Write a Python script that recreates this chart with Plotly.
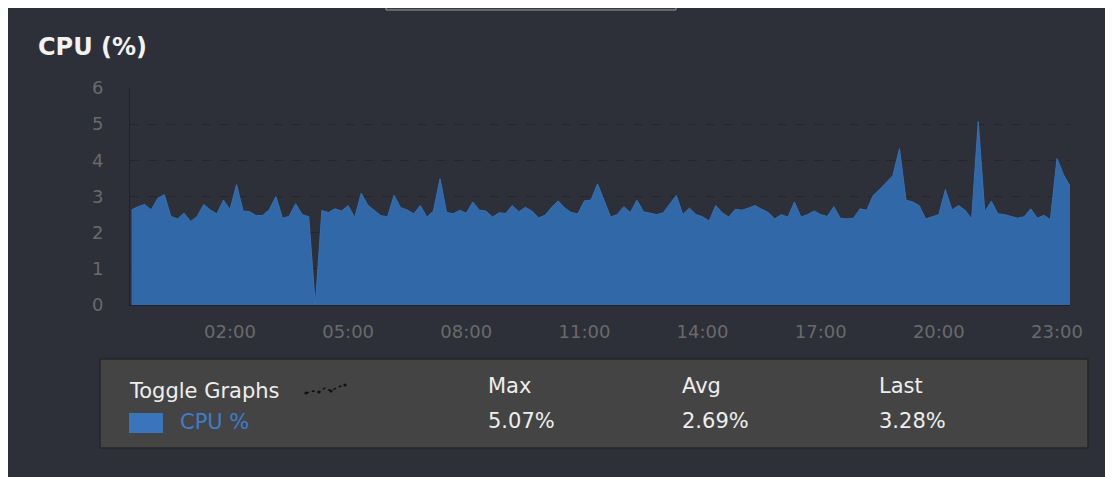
import pandas as pd
import plotly.graph_objects as go

# ---- data ----
start_time = "2024-01-01 23:30"
cpu_values = [
    2.63, 2.72, 2.78, 2.63, 2.95, 3.05, 2.45, 2.38, 2.54, 2.31, 2.45, 2.78,
    2.63, 2.52, 2.90, 2.64, 3.33, 2.60, 2.58, 2.47, 2.48, 2.64, 3.00, 2.40,
    2.45, 2.80, 2.50, 2.44, 0.00, 2.61, 2.56, 2.66, 2.60, 2.75, 2.42, 3.09,
    2.76, 2.62, 2.47, 2.44, 3.03, 2.69, 2.63, 2.52, 2.75, 2.43, 2.60,
    3.49, 2.56, 2.52, 2.62, 2.54, 2.85, 2.62, 2.60, 2.43, 2.55, 2.53, 2.75,
    2.58, 2.70, 2.60, 2.41, 2.48, 2.70, 2.88, 2.68, 2.56, 2.52, 2.88,
    2.90, 3.35, 2.90, 2.43, 2.50, 2.72, 2.56, 2.90, 2.58, 2.54, 2.50, 2.55,
    2.80, 3.03, 2.50, 2.68, 2.50, 2.44, 2.32, 2.75, 2.55, 2.43, 2.65, 2.62,
    2.68, 2.75, 2.65, 2.56, 2.38, 2.50, 2.43, 2.85, 2.43, 2.50, 2.60, 2.50,
    2.45, 2.72, 2.40, 2.38, 2.40, 2.66, 2.62, 3.03, 3.20, 3.40, 3.58, 4.32,
    2.90, 2.85, 2.75, 2.38, 2.43, 2.50, 3.19, 2.63, 2.75, 2.62, 2.38, 5.07,
    2.58, 2.87, 2.52, 2.50, 2.45, 2.40, 2.44, 2.66, 2.40, 2.48, 2.36, 4.05,
    3.60, 3.28,
]
tick_labels = ["02:00", "05:00", "08:00", "11:00", "14:00", "17:00", "20:00", "23:00"]
y_ticks = [0, 1, 2, 3, 4, 5, 6]
stat_headers = ["Max", "Avg", "Last"]
stat_values = ["5.07%", "2.69%", "3.28%"]
series_name = "CPU %"
title_text = "CPU (%)"

times = pd.date_range(start_time, periods=len(cpu_values), freq="10min")
tick_vals = [pd.Timestamp("2024-01-02 " + t) for t in tick_labels]

# ---- layout geometry (page pixels; page body has an 8px margin) ----
PAGE_W, PAGE_H = 1113, 477
OFF = 8
W, H = PAGE_W - OFF, PAGE_H - OFF
L, R, T, B = 130, 1070, 88, 305   # plot area in page pixels


def px(x):
    return (x - L) / (R - L)


def py(y):
    return (B - y) / (B - T)


BG = "#2d3038"
FONT = "DejaVu Sans"

fig = go.Figure()
fig.add_trace(go.Scatter(
    x=times, y=cpu_values, mode="lines", fill="tozeroy",
    line=dict(color="#3670b3", width=1), fillcolor="#3168a8",
    name=series_name, hoverinfo="x+y",
))

shapes = []
# white right edge of the page
shapes.append(dict(type="rect", xref="paper", yref="paper", x0=px(1108), x1=px(PAGE_W + 5), y0=py(0), y1=py(PAGE_H + 5),
                   fillcolor="#ffffff", line=dict(width=0), layer="above"))
# top tab fragment
shapes.append(dict(type="rect", xref="paper", yref="paper", x0=px(386), x1=px(676), y0=py(6), y1=py(10),
                   fillcolor="#3a3c42", line=dict(width=1, color="#9a9a9a"), layer="above"))
# legend box
shapes.append(dict(type="rect", xref="paper", yref="paper", x0=px(100), x1=px(1088), y0=py(359), y1=py(448),
                   fillcolor="#444444", line=dict(width=1.5, color="#262626"), layer="above"))
shapes.append(dict(type="rect", xref="paper", yref="paper", x0=px(129), x1=px(163), y0=py(413), y1=py(433),
                   fillcolor="#3a74bb", line=dict(width=0), layer="above"))
# toggle icon
icon_pts = [(306, 393), (313, 391), (319, 392), (325, 388), (331, 391), (338, 387), (345, 385)]
path = "M " + " L ".join(f"{px(a)},{py(b)}" for a, b in icon_pts)
shapes.append(dict(type="path", xref="paper", yref="paper", path=path,
                   line=dict(color="#111111", width=1.5, dash="dot"), layer="above"))
for a, b in icon_pts[::2]:
    shapes.append(dict(type="circle", xref="paper", yref="paper",
                       x0=px(a - 1.6), x1=px(a + 1.6), y0=py(b - 1.6), y1=py(b + 1.6),
                       fillcolor="#111111", line=dict(width=0), layer="above"))

annotations = []
annotations.append(dict(text="<b>" + title_text + "</b>", xref="paper", yref="paper", x=px(36), y=py(47),
                        xanchor="left", yanchor="middle", showarrow=False,
                        font=dict(family=FONT, size=24, color="#f2f2f2")))
annotations.append(dict(text="Toggle Graphs", xref="paper", yref="paper", x=px(127), y=py(391),
                        xanchor="left", yanchor="middle", showarrow=False,
                        font=dict(family=FONT, size=21, color="#eeeeee")))
annotations.append(dict(text=series_name, xref="paper", yref="paper", x=px(178), y=py(422),
                        xanchor="left", yanchor="middle", showarrow=False,
                        font=dict(family=FONT, size=21, color="#3d7dcc")))
for xh, head, val in zip([486, 680, 877], stat_headers, stat_values):
    annotations.append(dict(text=head, xref="paper", yref="paper", x=px(xh), y=py(386),
                            xanchor="left", yanchor="middle", showarrow=False,
                            font=dict(family=FONT, size=21, color="#eeeeee")))
    annotations.append(dict(text=val, xref="paper", yref="paper", x=px(xh), y=py(421),
                            xanchor="left", yanchor="middle", showarrow=False,
                            font=dict(family=FONT, size=21, color="#eeeeee")))

fig.update_layout(
    width=W, height=H, autosize=False,
    margin=dict(l=L - OFF, r=PAGE_W - R, t=T - OFF, b=PAGE_H - B, pad=0),
    paper_bgcolor=BG, plot_bgcolor=BG,
    showlegend=False,
    shapes=shapes, annotations=annotations,
    font=dict(family=FONT, color="#6a6a6a", size=16),
)
fig.update_xaxes(
    range=[pd.Timestamp("2024-01-01 23:27:40"), pd.Timestamp("2024-01-02 23:19:50")],
    tickvals=tick_vals, ticktext=tick_labels,
    showgrid=False, zeroline=False,
    showline=True, linecolor="#202228", linewidth=1,
    ticks="", ticklabelstandoff=10,
    tickfont=dict(family=FONT, size=18, color="#6a6a6a"),
)
fig.update_yaxes(
    range=[0, 6], tickvals=y_ticks,
    showgrid=True, gridcolor="#24262c", griddash="dash", gridwidth=1,
    zeroline=False, showline=True, linecolor="#202228", linewidth=1,
    ticks="", ticklabelstandoff=22,
    tickfont=dict(family=FONT, size=18, color="#6a6a6a"),
)

fig.write_html("out.html")
